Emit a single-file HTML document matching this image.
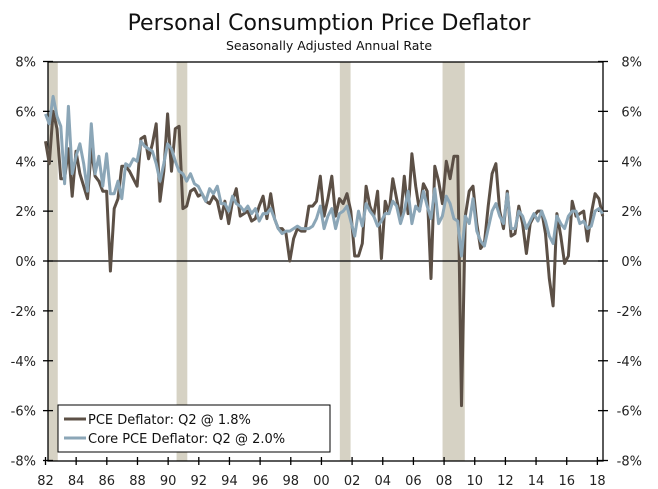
<!DOCTYPE html>
<html><head><meta charset="utf-8"><style>
html,body{margin:0;padding:0;background:#fff;}
svg{display:block;font-family:"DejaVu Sans","Liberation Sans",sans-serif;}
</style></head><body>
<svg id="chart" width="658" height="489">
<text x="329" y="30" text-anchor="middle" font-size="22" fill="#111">Personal Consumption Price Deflator</text>
<text x="329" y="50" text-anchor="middle" font-size="12.5" fill="#111">Seasonally Adjusted Annual Rate</text>
<g id="rec"></g>
<g id="axes"></g>
<g id="lines"></g>
<g>
<rect x="58" y="405" width="272" height="47" fill="#fff" stroke="#000" stroke-width="1"/>
<line x1="64" y1="419" x2="86" y2="419" stroke="#5c5046" stroke-width="3"/>
<text x="88" y="424" font-size="13" fill="#111">PCE Deflator: Q2 @ 1.8%</text>
<line x1="64" y1="438" x2="86" y2="438" stroke="#8ba6b7" stroke-width="3"/>
<text x="88" y="443" font-size="13" fill="#111">Core PCE Deflator: Q2 @ 2.0%</text>
</g>
</svg>
<script>
const pce = [4.8,3.9,6.0,5.3,3.3,3.3,4.5,2.6,4.4,3.5,3.0,2.5,4.5,3.4,3.2,2.8,2.8,-0.4,2.1,2.5,3.8,3.8,3.6,3.3,3.0,4.9,5.0,4.1,4.7,5.5,2.4,3.6,5.9,3.6,5.3,5.4,2.1,2.2,2.8,2.9,2.6,2.7,2.4,2.3,2.6,2.4,1.7,2.4,1.5,2.4,2.9,1.8,1.9,2.0,1.6,1.7,2.2,2.6,1.7,2.7,1.7,1.3,1.3,1.1,0.0,0.9,1.3,1.2,1.2,2.2,2.2,2.4,3.4,1.8,2.5,
3.4,1.8,2.5,2.3,2.7,2.0,0.2,0.2,0.7,3.0,2.2,1.8,2.8,0.1,2.4,1.9,3.3,2.5,1.7,3.4,1.9,4.3,3.0,2.0,3.1,2.8,-0.7,3.8,3.2,2.3,4.0,3.3,4.2,4.2,-5.8,1.8,2.8,3.0,1.5,0.5,0.7,2.2,3.5,3.9,2.0,1.3,2.8,1.0,1.1,2.2,1.5,0.3,1.5,1.8,2.0,2.0,1.1,-0.7,-1.8,1.9,1.0,-0.1,0.2,2.4,1.8,1.9,2.0,0.8,1.9,2.7,2.5,1.8];
const core = [5.9,5.5,6.6,5.8,5.4,3.1,6.2,3.5,4.2,4.7,3.9,2.8,5.5,3.5,4.2,3.0,4.3,2.7,2.7,3.2,2.5,3.9,3.8,4.1,4.0,4.8,4.6,4.5,4.4,3.9,3.2,3.9,4.7,4.5,4.0,3.6,3.5,3.2,3.5,3.1,3.0,2.7,2.4,2.9,2.7,3.0,2.3,2.3,2.0,2.6,2.3,2.2,2.0,2.2,1.9,2.1,1.6,1.9,1.9,2.1,1.7,1.3,1.1,1.2,1.2,1.3,1.4,1.3,1.3,1.3,1.4,1.7,2.2,1.3,1.8,
2.1,1.3,1.9,2.0,2.2,1.6,1.0,2.0,1.4,2.3,2.0,1.8,1.4,1.6,1.9,1.9,2.4,2.2,1.5,2.0,2.8,1.5,2.2,2.0,2.8,2.2,1.7,2.9,1.5,1.8,2.6,2.3,1.7,1.6,0.2,1.8,1.5,2.5,1.2,0.8,0.6,1.3,2.0,2.3,1.8,1.5,2.7,1.3,1.3,2.0,1.8,1.3,1.6,1.9,1.6,2.0,1.6,1.0,0.7,1.8,1.5,1.3,1.8,2.0,2.0,1.5,1.6,1.3,1.4,2.0,2.1,1.9];
const recessions = [[1981.5,1982.8],[1990.55,1991.25],[2001.2,2001.9],[2007.9,2009.35]];
const yTicks = [8,6,4,2,0,-2,-4,-6,-8];
const xTickYears = [1982,1984,1986,1988,1990,1992,1994,1996,1998,2000,2002,2004,2006,2008,2010,2012,2014,2016,2018];
const startYear = 1982, endYear = 2018.35;

const L=48,R=603,T=62,B=461;
const yS=v=>261-v*(B-T)/16;
const xS=t=>45.5+(t-1982)*15.33;
const tOf=(i,n)=>startYear+i*(endYear-startYear)/(n-1);
const NS='http://www.w3.org/2000/svg';
function mk(tag,attrs,parent,txt){const e=document.createElementNS(NS,tag);for(const k in attrs)e.setAttribute(k,attrs[k]);if(txt!==undefined)e.textContent=txt;parent.appendChild(e);return e;}
const rec=document.getElementById('rec'),ax=document.getElementById('axes'),ln=document.getElementById('lines');
recessions.forEach(r=>{const a=Math.max(xS(r[0]),L);
 const e=mk('rect',{x:a,y:T,width:xS(r[1])-a,height:B-T,fill:'#d6d2c4'},rec);
 
 });
let e=mk('rect',{x:L,y:T,width:R-L,height:B-T,fill:'none',stroke:'#000','stroke-width':1.3},ax);

e=mk('line',{x1:L,x2:R,y1:yS(0),y2:yS(0),stroke:'#000','stroke-width':1.3},ax);

yTicks.forEach(v=>{const y=yS(v);
 mk('line',{x1:L-5,x2:L+5,y1:y,y2:y,stroke:'#000','stroke-width':1.3},ax);
 mk('line',{x1:R-5,x2:R+5,y1:y,y2:y,stroke:'#000','stroke-width':1.3},ax);
 let t=mk('text',{x:36,y:y+5,'text-anchor':'end','font-size':13,fill:'#222'},ax,v+'%');
 
 t=mk('text',{x:642,y:y+5,'text-anchor':'end','font-size':13,fill:'#222'},ax,v+'%');
 });
xTickYears.forEach(yr=>{const x=xS(yr);
 mk('line',{x1:x,x2:x,y1:B-4,y2:B+4,stroke:'#000','stroke-width':1.3},ax);
 const t=mk('text',{x:x,y:485,'text-anchor':'middle','font-size':13,fill:'#222'},ax,String(yr).slice(2));
 });
function line(d,c,name){const p=d.map((v,i)=>(i?'L':'M')+xS(tOf(i,d.length)).toFixed(1)+','+yS(v).toFixed(1)).join('');
 const e=mk('path',{d:p,fill:'none',stroke:c,'stroke-width':3,'stroke-linejoin':'round'},ln);
 }
line(pce,'#5c5046','pce-deflator-line');
line(core,'#8ba6b7','core-pce-deflator-line');
</script>
</body></html>
